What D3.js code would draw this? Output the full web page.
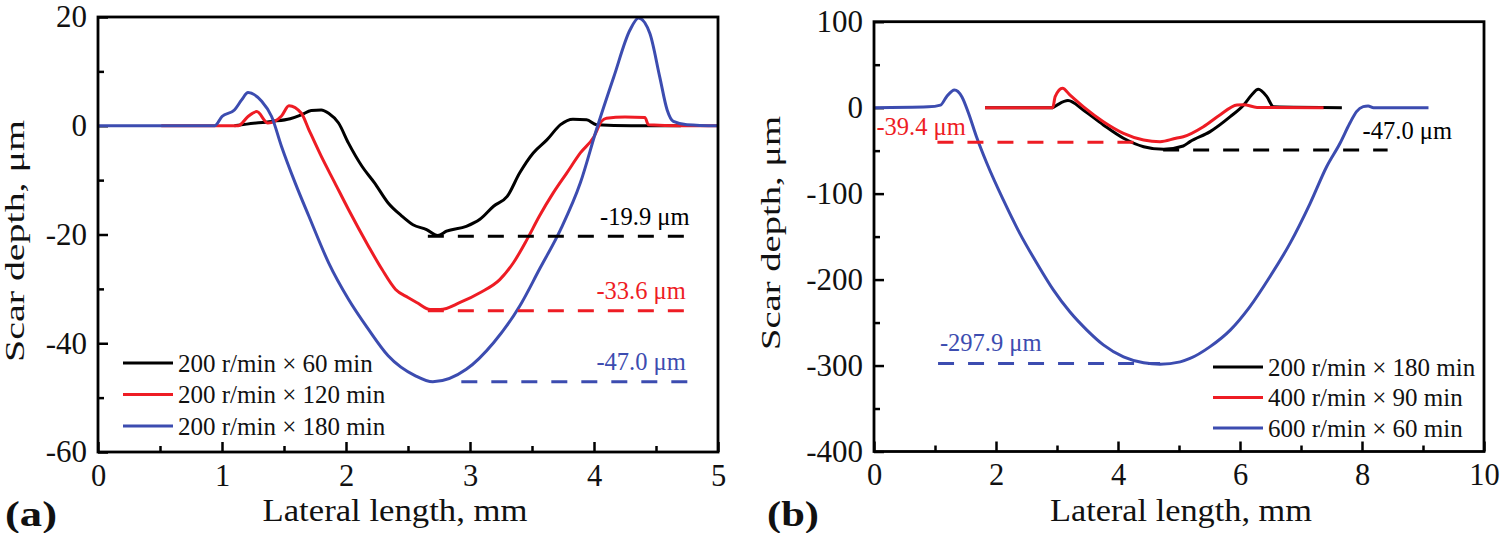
<!DOCTYPE html>
<html><head><meta charset="utf-8">
<script src="https://cdn.jsdelivr.net/npm/d3@7/dist/d3.min.js"></script>
<style>
html,body{margin:0;padding:0;background:#fff;}
svg{display:block;}
text{font-family:"Liberation Serif","Times New Roman",serif;}
</style></head>
<body>
<svg id="chart" width="1500" height="533"></svg>
<script>
// ---------- Panel (a) data ----------
const aLegend = ["200 r/min × 60 min", "200 r/min × 120 min", "200 r/min × 180 min"];
const a60X  = [1.10,1.20,1.40,1.55,1.64,1.72,1.80,1.86,1.94,2.02,2.13,2.23,2.34,2.45,2.54,2.65,2.74,2.81,2.97,3.08,3.19,3.30,3.40,3.51,3.62,3.73,3.83,3.94,4.02,4.30,4.70];
const a60Y  = [0,0.3,0.8,1.3,2.0,2.8,2.9,2.3,0.5,-3.2,-7.5,-10.5,-14.2,-16.6,-18.2,-19.1,-20.2,-19.4,-18.5,-17.2,-14.8,-13.0,-8.7,-5.0,-2.6,0.2,1.2,1.1,0.2,0,0];
const a120X = [0.51,1.00,1.13,1.21,1.28,1.37,1.48,1.54,1.64,1.70,1.80,1.91,2.02,2.18,2.29,2.40,2.50,2.57,2.68,2.76,2.92,3.08,3.24,3.35,3.46,3.56,3.67,3.78,3.89,4.00,4.06,4.10,4.25,4.41,4.44,4.70,5.00];
const a120Y = [0,0,0,1.7,2.6,0.5,1.8,3.7,2.3,-0.7,-5.6,-10.5,-15.4,-22.1,-26.4,-30.1,-31.6,-32.5,-33.8,-33.8,-32.5,-30.7,-28.3,-25.2,-20.9,-16.6,-12.4,-8.7,-5.0,-2.0,0.8,1.4,1.6,1.5,0.2,0,0];
const a180X = [0,0.94,1.00,1.10,1.16,1.21,1.32,1.40,1.48,1.59,1.70,1.86,2.02,2.18,2.34,2.56,2.70,2.97,3.19,3.40,3.56,3.73,3.89,4.02,4.16,4.29,4.36,4.45,4.53,4.59,4.64,4.75,5.00];
const a180Y = [0,0,1.7,2.9,4.8,6.1,4.5,1.7,-3.8,-10.5,-16.6,-25.2,-31.9,-37.4,-42.3,-46.0,-47.1,-44.8,-39.9,-33.2,-26.4,-19.1,-10.5,-0.7,9.0,17.6,19.8,17.0,9.0,2.9,0.8,0.2,0];
const aDepthLabels = ["-19.9 μm", "-33.6 μm", "-47.0 μm"];
const aDashLevel = [-20.3, -34.0, -47.1];
const aDashStart = [2.66, 2.66, 2.93];
const aDashEnd   = [4.77, 4.77, 4.77];
const aXTicks = [0,1,2,3,4,5];
const aYTicks = [20,0,-20,-40,-60];

// ---------- Panel (b) data ----------
const bLegend = ["200 r/min × 180 min", "400 r/min × 90 min", "600 r/min × 60 min"];
const b200X = [1.82,2.93,3.00,3.18,3.43,3.76,4.09,4.42,4.75,5.07,5.18,5.51,5.84,6.06,6.19,6.30,6.44,6.55,7.67];
const b200Y = [0,0,3,8.2,-2.7,-20.1,-35.6,-45.4,-48.5,-44.6,-39.5,-27.9,-10.5,3.1,14.8,21.4,12.8,1,0];
const b400X = [1.82,2.93,2.97,3.09,3.21,3.43,3.76,4.09,4.42,4.69,4.95,5.07,5.40,5.67,5.95,6.06,6.28,7.37];
const b400Y = [0,0,12.8,22.6,14.8,1.2,-16.3,-29.8,-37.6,-39.6,-35.6,-33.8,-22.1,-8.5,3.1,3.5,0.3,0];
const b600X = [0,0.89,1.09,1.19,1.32,1.44,1.55,1.68,1.85,2.12,2.39,2.67,2.94,3.21,3.49,3.76,4.09,4.42,4.69,5.02,5.18,5.51,5.84,6.16,6.49,6.82,7.15,7.42,7.64,7.80,7.91,8.02,8.10,8.19,9.09];
const b600Y = [0,1,3,12.8,20.6,12.8,-6.5,-33.8,-64.7,-107.4,-146.2,-181,-212,-237.5,-258.8,-276,-290,-296.8,-298.4,-295.7,-291.8,-278,-258.8,-231.7,-196.7,-157.9,-111.3,-68.7,-41.4,-18.2,-4.6,1.2,2,0,0];
const bDepthLabels = ["-47.0 μm", "-39.4 μm", "-297.9 μm"];
const bDashLevel = [-49.2, -40.3, -297.6];
const bDashStart = [4.74, 1.04, 1.05];
const bDashEnd   = [8.42, 4.30, 4.69];
const bXTicks = [0,2,4,6,8,10];
const bYTicks = [100,0,-100,-200,-300,-400];

const colors = ["#000000", "#ee1c24", "#3c4cb0"];

const svg = d3.select("#chart");
const FONT = "Liberation Serif, Times New Roman, serif";
const fmt = d => String(d); // plain hyphen minus as in the original

function zip(xs, ys){ return xs.map((x,i)=>[x, ys[i]]); }

function panel(cfg){
  const g = svg.append("g");
  const x = d3.scaleLinear().domain(cfg.xDomain).range([cfg.left, cfg.right]);
  const y = d3.scaleLinear().domain(cfg.yDomain).range([cfg.bottom, cfg.top]);

  // minor ticks
  g.append("g").attr("transform",`translate(0,${cfg.bottom})`)
    .call(d3.axisBottom(x).tickValues(cfg.xMinor).tickSize(-6).tickFormat(""))
    .call(s=>{s.select(".domain").remove(); s.selectAll("line").attr("stroke-width",2.5);});
  g.append("g").attr("transform",`translate(${cfg.left},0)`)
    .call(d3.axisLeft(y).tickValues(cfg.yMinor).tickSize(-6).tickFormat(""))
    .call(s=>{s.select(".domain").remove(); s.selectAll("line").attr("stroke-width",2.5);});
  // major ticks
  g.append("g").attr("transform",`translate(0,${cfg.bottom})`)
    .call(d3.axisBottom(x).tickValues(cfg.xTicks).tickSize(-10).tickPadding(12).tickFormat(fmt))
    .call(s=>{s.select(".domain").remove(); s.selectAll("line").attr("stroke-width",2.5);
      s.selectAll("text").attr("font-family",FONT).attr("font-size",30.5).attr("fill","#111");});
  g.append("g").attr("transform",`translate(${cfg.left},0)`)
    .call(d3.axisLeft(y).tickValues(cfg.yTicks).tickSize(-10).tickPadding(11).tickFormat(fmt))
    .call(s=>{s.select(".domain").remove(); s.selectAll("line").attr("stroke-width",2.5);
      s.selectAll("text").attr("font-family",FONT).attr("font-size",31).attr("fill","#111");});

  const clipId = "clip"+cfg.name;
  svg.append("defs").append("clipPath").attr("id",clipId).append("rect")
    .attr("x",cfg.left).attr("y",cfg.top).attr("width",cfg.right-cfg.left).attr("height",cfg.bottom-cfg.top);

  const line = d3.line().x(d=>x(d[0])).y(d=>y(d[1])).curve(d3.curveMonotoneX);
  const plot = g.append("g").attr("clip-path",`url(#${clipId})`);
  cfg.series.forEach((s,i)=>{
    plot.append("path").datum(zip(s[0], s[1])).attr("d",line)
      .attr("fill","none").attr("stroke",colors[i]).attr("stroke-width",3)
      .attr("stroke-linejoin","round");
  });
  // dashed depth lines
  cfg.dashLevel.forEach((lv,i)=>{
    plot.append("line").attr("x1",x(cfg.dashStart[i])).attr("x2",x(cfg.dashEnd[i]))
      .attr("y1",y(lv)).attr("y2",y(lv))
      .attr("stroke",colors[cfg.dashColor[i]]).attr("stroke-width",3).attr("stroke-dasharray","16,14");
  });
  // depth labels
  cfg.depthLabels.forEach((t,i)=>{
    const lp = cfg.labelPos[i];
    g.append("text").attr("x",x(lp.x)).attr("y",y(cfg.dashLevel[i]) - lp.dy)
      .attr("text-anchor",lp.anchor).attr("font-size",24.5).attr("fill",colors[cfg.dashColor[i]]).text(t);
  });
  // frame
  g.append("rect").attr("x",cfg.left).attr("y",cfg.top).attr("width",cfg.right-cfg.left).attr("height",cfg.bottom-cfg.top)
    .attr("fill","none").attr("stroke","#000").attr("stroke-width",2.8);
  // legend
  cfg.legend.forEach((t,i)=>{
    const ly = cfg.legY + i*cfg.legGap;
    g.append("line").attr("x1",cfg.legX).attr("x2",cfg.legX+50).attr("y1",ly).attr("y2",ly)
      .attr("stroke",colors[i]).attr("stroke-width",3.2);
    g.append("text").attr("x",cfg.legX+55).attr("y",ly).attr("dy","0.35em")
      .attr("font-size",25).attr("fill","#111").text(t);
  });
  // axis titles
  g.append("text").attr("x",cfg.xTitleX).attr("y",521).attr("text-anchor","middle")
    .attr("font-size",32.5).attr("textLength",cfg.xTitleLen).attr("lengthAdjust","spacingAndGlyphs")
    .attr("fill","#111").text("Lateral length, mm");
  g.append("text").attr("transform",`translate(${cfg.yTitleX},${cfg.yTitleY}) rotate(-90)`)
    .attr("text-anchor","middle").attr("font-size",27).attr("fill","#111")
    .attr("textLength",cfg.yTitleLen).attr("lengthAdjust","spacingAndGlyphs").text("Scar depth, μm");
  g.append("text").attr("x",cfg.tagX).attr("y",526).attr("font-size",36).attr("font-weight","bold")
    .attr("textLength",52).attr("lengthAdjust","spacingAndGlyphs").attr("fill","#111").text(cfg.tag);
}

panel({
  name:"a", left:98, right:718, top:17, bottom:452,
  xDomain:[0,5], yDomain:[-60,20],
  xTicks:aXTicks, yTicks:aYTicks,
  xMinor:[0.5,1.5,2.5,3.5,4.5], yMinor:[10,-10,-30,-50],
  series:[[a60X,a60Y],[a120X,a120Y],[a180X,a180Y]],
  dashLevel:aDashLevel, dashStart:aDashStart, dashEnd:aDashEnd, dashColor:[0,1,2],
  depthLabels:aDepthLabels,
  labelPos:[{x:4.77,dy:11.5,anchor:"end"},{x:4.74,dy:12,anchor:"end"},{x:4.74,dy:11.7,anchor:"end"}],
  legend:aLegend, legX:123, legY:363, legGap:31.5,
  xTitleX:395, xTitleLen:265, yTitleX:24, yTitleY:241, yTitleLen:242,
  tag:"(a)", tagX:5
});

panel({
  name:"b", left:874, right:1484, top:21.7, bottom:451.5,
  xDomain:[0,10], yDomain:[-400,100],
  xTicks:bXTicks, yTicks:bYTicks,
  xMinor:[1,3,5,7,9], yMinor:[50,-50,-150,-250,-350],
  series:[[b200X,b200Y],[b400X,b400Y],[b600X,b600Y]],
  dashLevel:bDashLevel, dashStart:bDashStart, dashEnd:bDashEnd, dashColor:[0,1,2],
  depthLabels:bDepthLabels,
  labelPos:[{x:8.01,dy:11,anchor:"start"},{x:0.04,dy:7,anchor:"start"},{x:1.08,dy:12.6,anchor:"start"}],
  legend:bLegend, legX:1213, legY:367, legGap:30.5,
  xTitleX:1181, xTitleLen:262, yTitleX:780, yTitleY:233, yTitleLen:234,
  tag:"(b)", tagX:767
});
</script>
</body></html>
